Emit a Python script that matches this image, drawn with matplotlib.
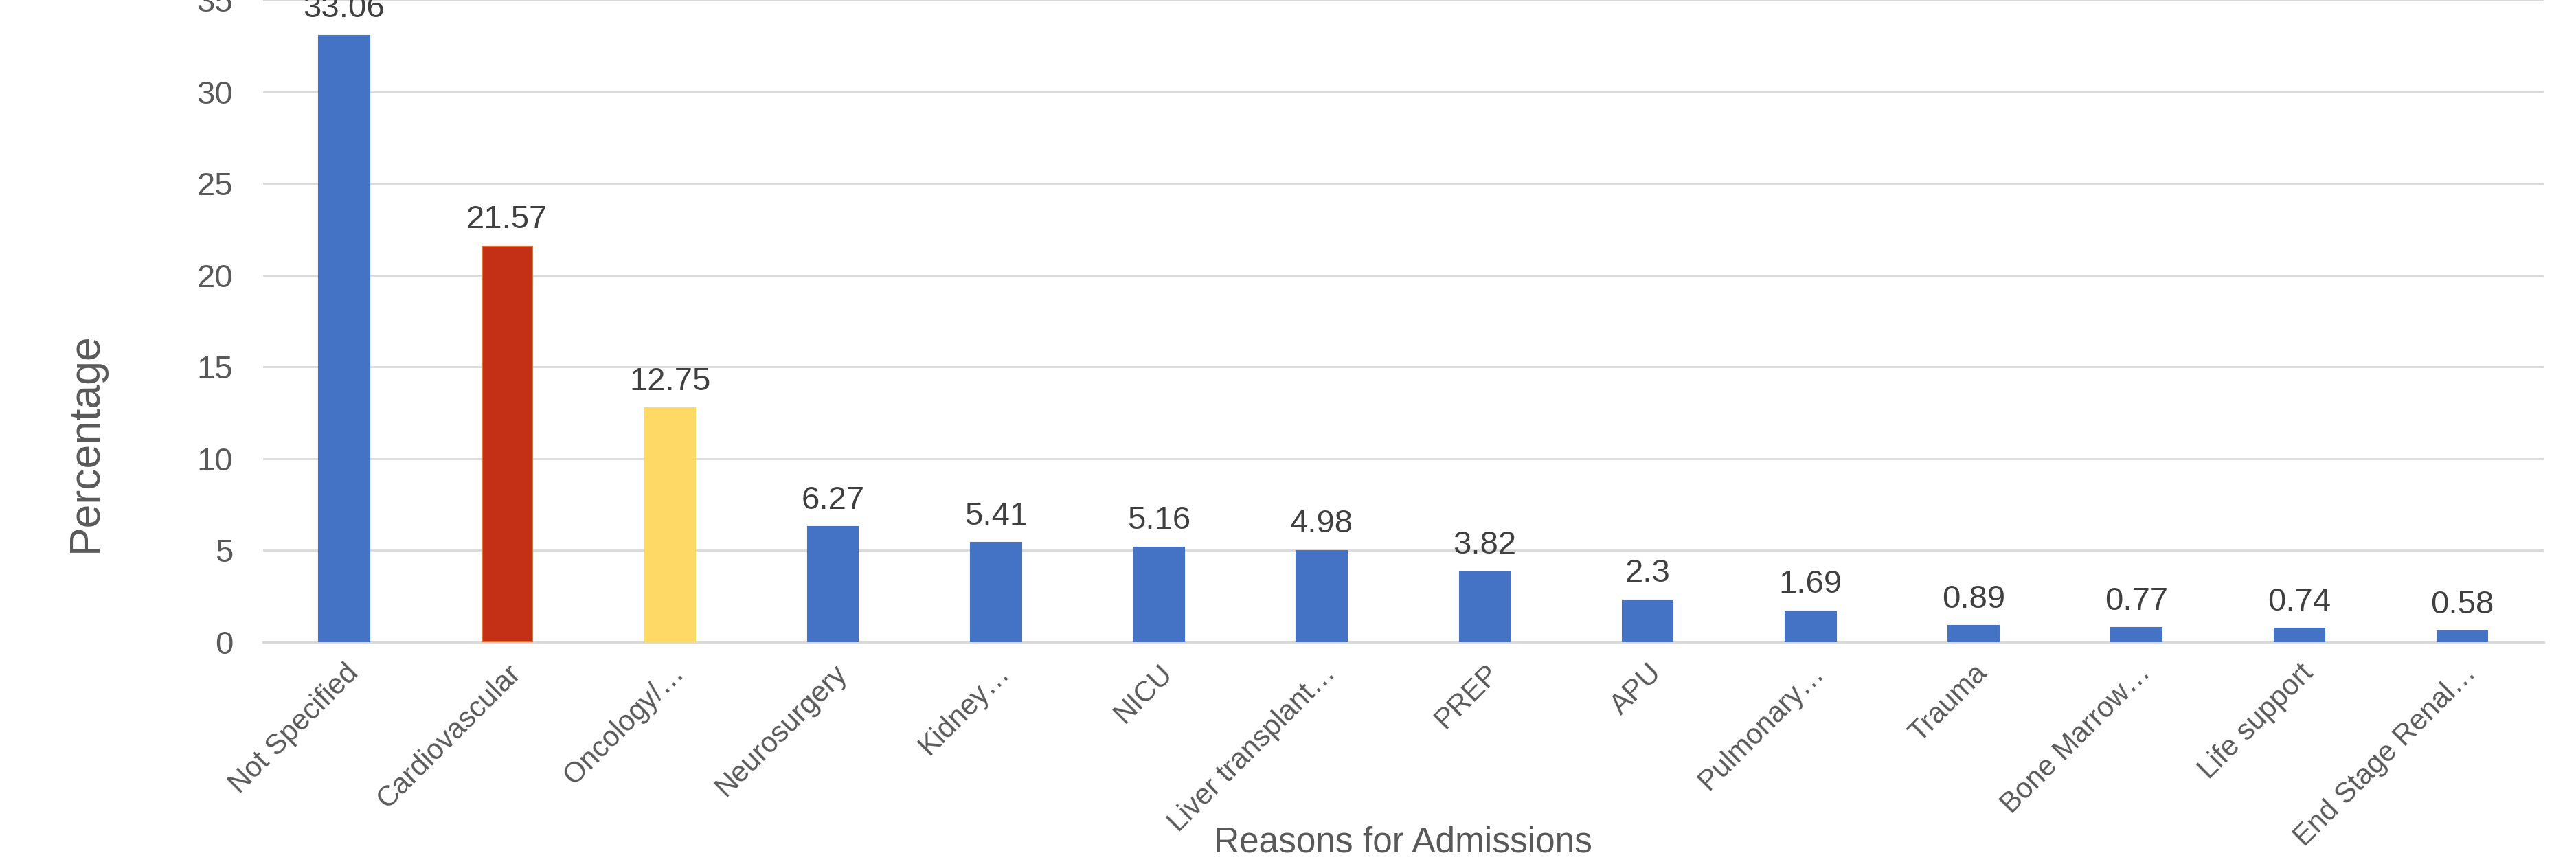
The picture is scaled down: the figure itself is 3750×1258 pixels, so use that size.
import numpy as np
import matplotlib
matplotlib.use('Agg')
import matplotlib.pyplot as plt

plt.rcParams['font.family'] = ['Liberation Sans', 'DejaVu Sans']

# data
reasons = ['Not Specified', 'Cardiovascular', 'Oncology/…', 'Neurosurgery',
           'Kidney…', 'NICU', 'Liver transplant…', 'PREP', 'APU',
           'Pulmonary…', 'Trauma', 'Bone Marrow…', 'Life support',
           'End Stage Renal…']
percent = [33.06, 21.57, 12.75, 6.27, 5.41, 5.16, 4.98, 3.82, 2.3,
           1.69, 0.89, 0.77, 0.74, 0.58]
value_labels = ['33.06', '21.57', '12.75', '6.27', '5.41', '5.16', '4.98',
                '3.82', '2.3', '1.69', '0.89', '0.77', '0.74', '0.58']
yticks = [0, 5, 10, 15, 20, 25, 30, 35]

blue = '#4472C4'
colors = [blue] * len(reasons)
colors[1] = '#C33015'
colors[2] = '#FFD966'
edges = [blue] * len(reasons)
edges[1] = '#E8702A'
edges[2] = '#FFD966'

fig = plt.figure(figsize=(37.5, 12.58), dpi=100)
ax = fig.add_axes([0.102, 0.2568, 0.8855, 0.7432])

x = np.arange(len(reasons))
bars = ax.bar(x, percent, width=0.31, color=colors, edgecolor=edges,
              linewidth=1.5, zorder=3)

# value labels above each bar
for b, lab in zip(bars, value_labels):
    ax.annotate(lab, (b.get_x() + b.get_width() / 2, b.get_height()),
                xytext=(0, 12), textcoords='offset points',
                ha='center', va='bottom', fontsize=34, color='#404040',
                annotation_clip=False)

ax.set_xlim(-0.5, len(reasons) - 0.5)
ax.set_ylim(0, 35)
ax.set_yticks(yticks)
ax.set_xticks(x)
ax.set_xticklabels(reasons, rotation=45, ha='right', rotation_mode='anchor',
                   fontsize=30, color='#595959')
ax.tick_params(axis='x', length=0, pad=18)
ax.tick_params(axis='y', length=0, pad=31, labelsize=34, labelcolor='#595959')

ax.grid(axis='y', color='#D9D9D9', linewidth=2, zorder=0)
for s in ['top', 'right', 'left']:
    ax.spines[s].set_visible(False)
ax.spines['bottom'].set_color('#D9D9D9')
ax.spines['bottom'].set_linewidth(2.5)

ax.set_ylabel('Percentage', fontsize=45, color='#595959')
ax.set_xlabel('Reasons for Admissions', fontsize=37, color='#595959')
ax.yaxis.set_label_coords(-0.0777, 0.311)
ax.yaxis.label.set_va('center')
ax.xaxis.set_label_coords(0.5, -0.312)
ax.xaxis.label.set_va('center')

fig.savefig('out.png', dpi=100)
